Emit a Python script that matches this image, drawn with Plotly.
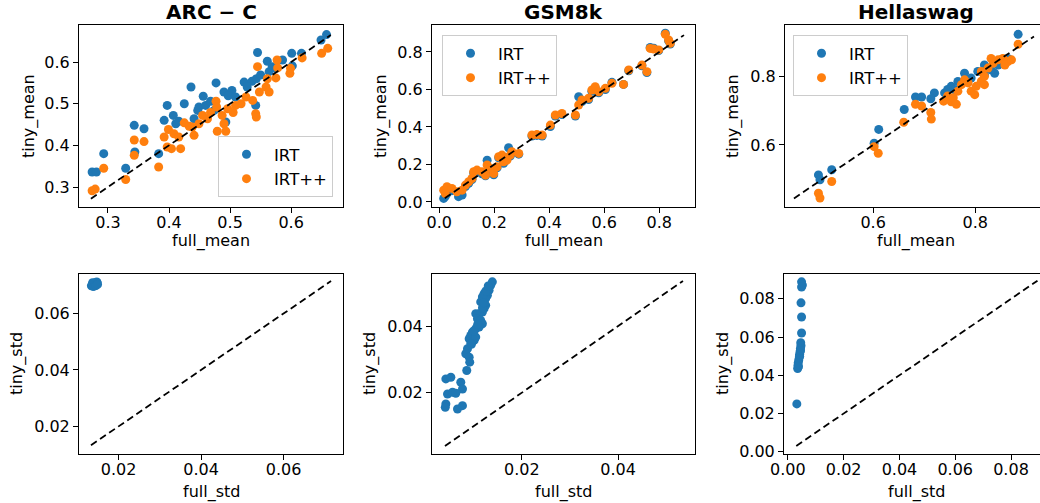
import plotly.graph_objects as go

# ---------------- data ----------------
# ARC-C (mean)
arc_irt_full = [0.274, 0.281, 0.293, 0.329, 0.343, 0.359, 0.344, 0.383, 0.397, 0.392, 0.407, 0.411, 0.416,
                0.425, 0.436, 0.441, 0.447, 0.449, 0.456, 0.460, 0.468, 0.477, 0.490, 0.503, 0.497, 0.509,
                0.493, 0.523, 0.536, 0.543, 0.545, 0.542, 0.550, 0.561, 0.569, 0.564, 0.586, 0.601, 0.602,
                0.617, 0.649, 0.658, 0.474, 0.528, 0.575]
arc_irt_tiny = [0.336, 0.336, 0.380, 0.345, 0.448, 0.440, 0.384, 0.380, 0.496, 0.460, 0.472, 0.452, 0.458,
                0.500, 0.540, 0.464, 0.484, 0.492, 0.518, 0.496, 0.506, 0.550, 0.528, 0.532, 0.519, 0.516,
                0.456, 0.552, 0.554, 0.560, 0.623, 0.496, 0.569, 0.602, 0.589, 0.577, 0.605, 0.621, 0.591,
                0.621, 0.653, 0.666, 0.484, 0.540, 0.585]
arc_pp_full = [0.274, 0.279, 0.293, 0.329, 0.343, 0.359, 0.343, 0.383, 0.399, 0.392, 0.397, 0.404, 0.419,
               0.408, 0.416, 0.425, 0.441, 0.438, 0.449, 0.455, 0.463, 0.468, 0.477, 0.478, 0.479, 0.487,
               0.490, 0.493, 0.496, 0.505, 0.518, 0.509, 0.537, 0.542, 0.543, 0.545, 0.548, 0.559, 0.561,
               0.564, 0.575, 0.577, 0.578, 0.598, 0.599, 0.618, 0.650, 0.660, 0.433, 0.526]
arc_pp_tiny = [0.291, 0.295, 0.345, 0.318, 0.413, 0.409, 0.376, 0.348, 0.438, 0.420, 0.396, 0.392, 0.392,
               0.428, 0.420, 0.454, 0.424, 0.444, 0.452, 0.472, 0.464, 0.479, 0.506, 0.492, 0.434, 0.472,
               0.452, 0.434, 0.488, 0.479, 0.500, 0.496, 0.508, 0.476, 0.468, 0.589, 0.528, 0.540, 0.560,
               0.528, 0.562, 0.605, 0.586, 0.573, 0.585, 0.610, 0.621, 0.633, 0.446, 0.516]
arc_diag = [0.272, 0.665]

# GSM8k (mean)
gsm_irt_full = [0.016, 0.028, 0.022, 0.046, 0.070, 0.083, 0.095, 0.107, 0.119, 0.125, 0.137, 0.155, 0.168,
                0.174, 0.186, 0.198, 0.210, 0.216, 0.228, 0.234, 0.252, 0.258, 0.264, 0.289, 0.337, 0.355,
                0.374, 0.404, 0.422, 0.446, 0.495, 0.507, 0.519, 0.543, 0.555, 0.567, 0.580, 0.604, 0.628,
                0.670, 0.689, 0.737, 0.755, 0.767, 0.780, 0.798, 0.822, 0.834, 0.840]
gsm_irt_tiny = [0.019, 0.045, 0.030, 0.060, 0.028, 0.037, 0.082, 0.100, 0.120, 0.155, 0.165, 0.150, 0.140,
                0.223, 0.172, 0.145, 0.182, 0.236, 0.245, 0.206, 0.289, 0.245, 0.262, 0.255, 0.352, 0.355,
                0.352, 0.402, 0.458, 0.466, 0.458, 0.561, 0.535, 0.546, 0.590, 0.608, 0.582, 0.600, 0.638,
                0.627, 0.700, 0.726, 0.690, 0.824, 0.820, 0.808, 0.900, 0.860, 0.842]
gsm_pp_full = [0.016, 0.028, 0.022, 0.046, 0.064, 0.083, 0.095, 0.107, 0.119, 0.125, 0.137, 0.155, 0.168,
               0.174, 0.186, 0.198, 0.210, 0.216, 0.228, 0.234, 0.246, 0.258, 0.264, 0.289, 0.337, 0.355,
               0.374, 0.404, 0.422, 0.446, 0.495, 0.507, 0.519, 0.543, 0.555, 0.567, 0.580, 0.604, 0.628,
               0.670, 0.689, 0.737, 0.755, 0.767, 0.780, 0.798, 0.822, 0.834, 0.840]
gsm_pp_tiny = [0.063, 0.081, 0.045, 0.072, 0.054, 0.063, 0.090, 0.108, 0.125, 0.161, 0.170, 0.161, 0.143,
               0.197, 0.179, 0.152, 0.188, 0.241, 0.250, 0.214, 0.223, 0.250, 0.268, 0.259, 0.357, 0.360,
               0.357, 0.410, 0.464, 0.472, 0.464, 0.517, 0.544, 0.553, 0.597, 0.615, 0.588, 0.606, 0.633,
               0.627, 0.704, 0.730, 0.695, 0.819, 0.816, 0.811, 0.894, 0.864, 0.846]
gsm_diag = [0.02, 0.89]

# Hellaswag (mean)
hel_irt_full = [0.884, 0.493, 0.496, 0.519, 0.602, 0.611, 0.661, 0.683, 0.695, 0.720, 0.713, 0.740, 0.753,
                0.766, 0.779, 0.805, 0.818, 0.838, 0.858, 0.864, 0.845, 0.818, 0.792, 0.759, 0.746, 0.831,
                0.851]
hel_irt_tiny = [0.921, 0.513, 0.499, 0.528, 0.605, 0.645, 0.703, 0.739, 0.739, 0.751, 0.734, 0.751, 0.770,
                0.784, 0.808, 0.813, 0.803, 0.808, 0.842, 0.851, 0.832, 0.832, 0.794, 0.761, 0.761, 0.818,
                0.847]
hel_pp_full = [0.884, 0.493, 0.496, 0.519, 0.602, 0.610, 0.660, 0.683, 0.695, 0.713, 0.714, 0.738, 0.753,
               0.746, 0.766, 0.773, 0.779, 0.792, 0.799, 0.802, 0.812, 0.818, 0.812, 0.825, 0.835, 0.845,
               0.854, 0.864, 0.818, 0.786, 0.757, 0.763, 0.831, 0.858, 0.871]
hel_pp_tiny = [0.892, 0.460, 0.446, 0.494, 0.595, 0.576, 0.666, 0.718, 0.713, 0.694, 0.675, 0.727, 0.725,
               0.742, 0.756, 0.775, 0.789, 0.756, 0.746, 0.770, 0.785, 0.775, 0.813, 0.823, 0.837, 0.847,
               0.851, 0.842, 0.799, 0.780, 0.737, 0.718, 0.851, 0.832, 0.847]
hel_diag = [0.445, 0.915]

# std panels (IRT only)
arc_std_full = [0.0134, 0.0136, 0.0138, 0.0140, 0.0142, 0.0144, 0.0146, 0.0148, 0.0147, 0.0143, 0.0139,
                0.0137, 0.0141, 0.0145, 0.0149]
arc_std_tiny = [0.0698, 0.0702, 0.0696, 0.0700, 0.0704, 0.0702, 0.0706, 0.0709, 0.0712, 0.0709, 0.0706,
                0.0709, 0.0697, 0.0699, 0.0703]
arc_std_diag = [0.0133, 0.0715]

gsm_std_full = [0.01385, 0.0135, 0.01317, 0.01282, 0.01246, 0.01213, 0.01178, 0.01143, 0.01246, 0.01213,
                0.01178, 0.0111, 0.0104, 0.01075, 0.01143, 0.01178, 0.0111, 0.0104, 0.00971, 0.00936,
                0.00903, 0.01006, 0.0104, 0.00936, 0.00868, 0.00832, 0.00903, 0.00915, 0.00853, 0.00418,
                0.00522, 0.00729, 0.00764, 0.00453, 0.00557, 0.00625, 0.00418, 0.00406, 0.0066, 0.00764,
                0.0125, 0.0118, 0.0100, 0.0108, 0.0095, 0.0130, 0.0120]
gsm_std_tiny = [0.05324, 0.05224, 0.05073, 0.04923, 0.04822, 0.04973, 0.04873, 0.04722, 0.04621, 0.04521,
                0.04421, 0.0437, 0.0437, 0.0422, 0.0417, 0.04069, 0.03969, 0.03919, 0.03818, 0.03718,
                0.03617, 0.03567, 0.03668, 0.03467, 0.03316, 0.03166, 0.03065, 0.02915, 0.02664, 0.02413,
                0.02463, 0.02312, 0.02111, 0.01961, 0.02011, 0.01981, 0.0166, 0.0156, 0.01509, 0.0161,
                0.0505, 0.0455, 0.0385, 0.0405, 0.0345, 0.0520, 0.0470]
gsm_std_diag = [0.004, 0.0535]

hel_std_full = [0.0049, 0.0052, 0.0049, 0.0047, 0.0049, 0.0049, 0.0046, 0.0047, 0.0045, 0.0044, 0.0042,
                0.0041, 0.0039, 0.0037, 0.0036, 0.0035, 0.0038, 0.0042, 0.0045, 0.0032]
hel_std_tiny = [0.0889, 0.0872, 0.0862, 0.0779, 0.0705, 0.0621, 0.0570, 0.0555, 0.0540, 0.0525, 0.0510,
                0.0495, 0.0480, 0.0465, 0.0450, 0.0435, 0.0445, 0.0500, 0.0530, 0.0250]
hel_std_diag = [0.003, 0.0895]

titles = ["ARC − C", "GSM8k", "Hellaswag"]
series_names = ["IRT", "IRT++"]

# tick labels
arc_mean_ticks = [0.3, 0.4, 0.5, 0.6]
gsm_mean_ticks = [0.0, 0.2, 0.4, 0.6, 0.8]
hel_mean_ticks = [0.6, 0.8]
arc_std_ticks = [0.02, 0.04, 0.06]
gsm_std_ticks = [0.02, 0.04]
hel_std_ticks = [0.00, 0.02, 0.04, 0.06, 0.08]

# ---------------- layout helpers ----------------
W, H = 1040, 503
BLUE, ORANGE = "#1f77b4", "#ff7f0e"
FONT = "DejaVu Sans"
TICK = 16


def px(p):
    return p / W


def py(p):
    return 1 - p / H


def xd(a, b):
    return [px(a), min(px(b), 1.0)]


def yd(top, bottom):
    return [py(bottom), py(top)]


def axis(domain, rng, ticks, fmt, anchor, is_x, mirror=True):
    d = dict(domain=domain, range=rng, tickmode="array", tickvals=ticks,
             ticktext=[fmt.format(t) for t in ticks], ticks="outside", ticklen=5,
             tickwidth=1, tickcolor="black", showline=True, linecolor="black", linewidth=1,
             mirror=mirror, showgrid=False, zeroline=False, anchor=anchor, automargin=False,
             tickfont=dict(family=FONT, size=TICK, color="black"))
    if is_x:
        d["ticklabelstandoff"] = -4
    return d


fig = go.Figure()

mk = dict(size=9, line=dict(width=0))
panels_mean = [
    (arc_irt_full, arc_irt_tiny, arc_pp_full, arc_pp_tiny, arc_diag, "x", "y", "legend"),
    (gsm_irt_full, gsm_irt_tiny, gsm_pp_full, gsm_pp_tiny, gsm_diag, "x2", "y2", "legend2"),
    (hel_irt_full, hel_irt_tiny, hel_pp_full, hel_pp_tiny, hel_diag, "x3", "y3", "legend3"),
]
for fx, fy, px_, py_, dg, xa, ya, lg in panels_mean:
    fig.add_trace(go.Scatter(x=fx, y=fy, mode="markers", name=series_names[0], xaxis=xa, yaxis=ya,
                             marker=dict(color=BLUE, **mk), legend=lg, legendgroup=lg + "a"))
    fig.add_trace(go.Scatter(x=px_, y=py_, mode="markers", name=series_names[1], xaxis=xa, yaxis=ya,
                             marker=dict(color=ORANGE, **mk), legend=lg, legendgroup=lg + "b"))
    fig.add_trace(go.Scatter(x=dg, y=dg, mode="lines", xaxis=xa, yaxis=ya, showlegend=False,
                             line=dict(color="black", width=1.8, dash="7px,4px")))

panels_std = [
    (arc_std_full, arc_std_tiny, arc_std_diag, "x4", "y4"),
    (gsm_std_full, gsm_std_tiny, gsm_std_diag, "x5", "y5"),
    (hel_std_full, hel_std_tiny, hel_std_diag, "x6", "y6"),
]
for fx, fy, dg, xa, ya in panels_std:
    fig.add_trace(go.Scatter(x=fx, y=fy, mode="markers", name=series_names[0], xaxis=xa, yaxis=ya,
                             marker=dict(color=BLUE, **mk), showlegend=False))
    fig.add_trace(go.Scatter(x=dg, y=dg, mode="lines", xaxis=xa, yaxis=ya, showlegend=False,
                             line=dict(color="black", width=1.8, dash="7px,4px")))

top_y = yd(25, 207)
bot_y = yd(274, 454)
c1, c2, c3 = xd(79, 343), xd(432, 695), xd(785, 1040)
c3b = xd(784, 1040)

legend_common = dict(bgcolor="rgba(255,255,255,0.8)", bordercolor="#cccccc", borderwidth=1,
                     font=dict(family=FONT, size=16.5, color="black"), tracegroupgap=0,
                     itemwidth=45)

fig.update_layout(
    width=W, height=H, margin=dict(l=0, r=0, t=0, b=0, autoexpand=False),
    paper_bgcolor="white", plot_bgcolor="white",
    font=dict(family=FONT, color="black"),
    xaxis=axis(c1, [0.2525, 0.685], arc_mean_ticks, "{:.1f}", "y", True),
    yaxis=axis(top_y, [0.252, 0.689], arc_mean_ticks, "{:.1f}", "x", False),
    xaxis2=axis(c2, [-0.0265, 0.93], gsm_mean_ticks, "{:.1f}", "y2", True),
    yaxis2=axis(top_y, [-0.027, 0.944], gsm_mean_ticks, "{:.1f}", "x2", False),
    xaxis3=axis(c3, [0.4275, 0.9268], hel_mean_ticks, "{:.1f}", "y3", True),
    yaxis3=axis(top_y, [0.42, 0.948], hel_mean_ticks, "{:.1f}", "x3", False, mirror=False),
    xaxis4=axis(c1, [0.0104, 0.0744], arc_std_ticks, "{:.2f}", "y4", True),
    yaxis4=axis(bot_y, [0.0102, 0.0740], arc_std_ticks, "{:.2f}", "x4", False),
    xaxis5=axis(c2, [0.0013, 0.056], gsm_std_ticks, "{:.2f}", "y5", True),
    yaxis5=axis(bot_y, [0.0016, 0.0556], gsm_std_ticks, "{:.2f}", "x5", False),
    xaxis6=axis(c3b, [-0.0014, 0.0904], hel_std_ticks, "{:.2f}", "y6", True),
    yaxis6=axis(bot_y, [-0.0012, 0.093], hel_std_ticks, "{:.2f}", "x6", False, mirror=False),
    legend=dict(x=px(333), xanchor="right", y=py(197), yanchor="bottom", **legend_common),
    legend2=dict(x=px(442), xanchor="left", y=py(35), yanchor="top", **legend_common),
    legend3=dict(x=px(793), xanchor="left", y=py(35), yanchor="top", **legend_common),
)

ann = []
for t, cx in zip(titles, [211, 563.5, 916]):
    ann.append(dict(text="<b>" + t + "</b>", x=px(cx), y=py(12), xref="paper", yref="paper",
                    showarrow=False, xanchor="center", yanchor="middle",
                    font=dict(family=FONT, size=20, color="black")))
for cx in [211, 563.5, 916]:
    ann.append(dict(text="full_mean", x=px(cx), y=py(241), xref="paper", yref="paper",
                    showarrow=False, xanchor="center", yanchor="middle",
                    font=dict(family=FONT, size=16, color="black")))
    ann.append(dict(text="full_std", x=px(cx), y=py(492), xref="paper", yref="paper",
                    showarrow=False, xanchor="center", yanchor="middle",
                    font=dict(family=FONT, size=16, color="black")))
for cx in [29, 381, 733]:
    ann.append(dict(text="tiny_mean", x=px(cx), y=py(116), xref="paper", yref="paper",
                    showarrow=False, xanchor="center", yanchor="middle", textangle=-90,
                    font=dict(family=FONT, size=16, color="black")))
for cx in [17, 370, 723]:
    ann.append(dict(text="tiny_std", x=px(cx), y=py(364), xref="paper", yref="paper",
                    showarrow=False, xanchor="center", yanchor="middle", textangle=-90,
                    font=dict(family=FONT, size=16, color="black")))
fig.update_layout(annotations=ann)

# remove the browser's default 8px page margin so the figure sits at the window's corner
fig.write_html("out.html", config={"displayModeBar": False},
               post_script="document.body.style.margin='0';")
